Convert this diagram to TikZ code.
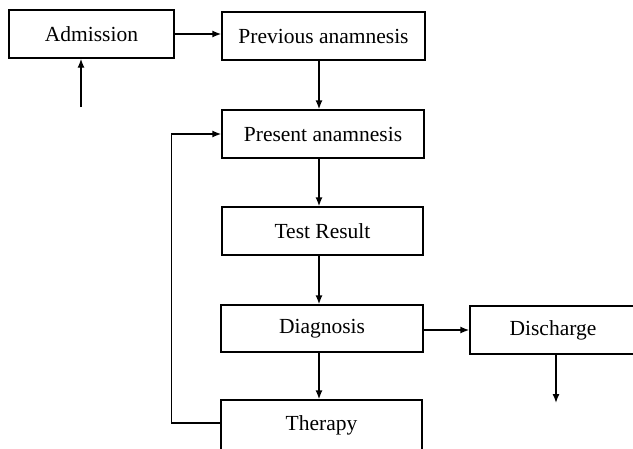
\documentclass[tikz,border=0pt]{standalone}
\usepackage{fontspec}
\setmainfont{Liberation Serif}
\usetikzlibrary{arrows.meta}
\begin{document}
\begin{tikzpicture}[x=1pt,y=1pt,
  box/.style={draw,line width=1.4pt,inner sep=0pt,minimum height=48pt,font=\fontsize{21.5}{25}\selectfont},
  conn/.style={line width=1.4pt,-{Latex[length=9pt,width=7pt]}}]
\useasboundingbox (0,0) rectangle (633,-448);
\clip (0,0) rectangle (633,-448);
\node[box,minimum width=165pt] (adm) at (91.5,-34) {Admission};
\node[box,minimum width=203pt] (prev) at (323.5,-36) {Previous anamnesis};
\node[box,minimum width=202pt] (pres) at (323,-134) {Present anamnesis};
\node[box,minimum width=201pt] (test) at (322.5,-231) {Test Result};
\node[box,minimum width=202pt,minimum height=47pt] (diag) at (322,-328.5) {Diagnosis};
\node[box,minimum width=166pt] (dis) at (553,-330) {Discharge};
\node[box,minimum width=201pt,minimum height=50pt] (ther) at (321.5,-425) {Therapy};
\coordinate (col) at (319,0);
\coordinate (ain) at (81,-107);
\coordinate (dout) at (556,-403);
\draw[conn] (adm.east) -- (adm.east -| prev.west);
\draw[conn] (ain) -- (ain |- adm.south);
\draw[conn] (prev.south -| col) -- (pres.north -| col);
\draw[conn] (pres.south -| col) -- (test.north -| col);
\draw[conn] (test.south -| col) -- (diag.north -| col);
\draw[conn] (diag.south -| col) -- (ther.north -| col);
\draw[conn] (diag.east |- dis.west) -- (dis.west);
\draw[conn] (dis.south -| dout) -- (dout);
\draw[conn] (ther.west |- 0,-423) -- ++(-49,0) |- (pres.west);
\end{tikzpicture}
\end{document}
